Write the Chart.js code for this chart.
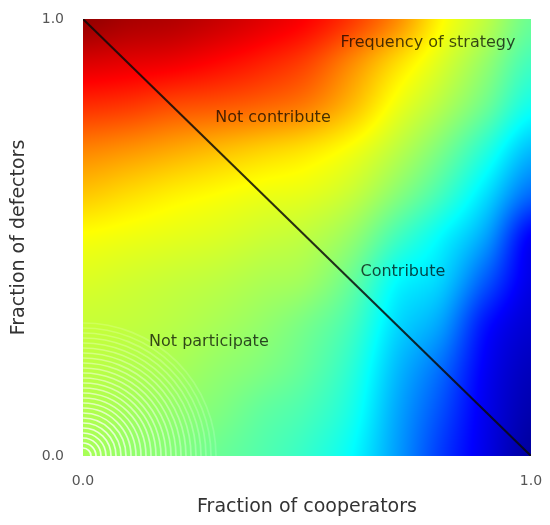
<!DOCTYPE html>
<html>
<head>
<meta charset="utf-8">
<script src="https://cdn.jsdelivr.net/npm/chart.js@4/dist/chart.umd.min.js"></script>
<style>
  html, body { margin: 0; padding: 0; background: #fff; }
  #wrap { width: 550px; height: 525px; }
</style>
</head>
<body>
<div id="wrap"><canvas id="freqChart" width="550" height="525"></canvas></div>
<script>
// grid of the strategy frequency map (jet index 0..1)
const xGrid = [0, 0.1, 0.2, 0.3, 0.4, 0.5, 0.6, 0.7, 0.8, 0.9, 1.0];
const yGrid = [1.0, 0.9, 0.8, 0.7, 0.6, 0.5, 0.4, 0.3, 0.2, 0.1, 0.0];
const frequency = [
    [0.98, 0.96, 0.95, 0.93, 0.905, 0.875, 0.82, 0.74, 0.63, 0.56, 0.48],
    [0.91, 0.90, 0.89, 0.87, 0.845, 0.81, 0.74, 0.66, 0.59, 0.52, 0.44],
    [0.83, 0.82, 0.80, 0.79, 0.775, 0.75, 0.69, 0.61, 0.55, 0.48, 0.39],
    [0.745, 0.73, 0.71, 0.69, 0.67, 0.65, 0.615, 0.56, 0.495, 0.41, 0.31],
    [0.68, 0.66, 0.64, 0.625, 0.61, 0.60, 0.57, 0.51, 0.44, 0.345, 0.23],
    [0.62, 0.61, 0.60, 0.59, 0.575, 0.56, 0.52, 0.44, 0.37, 0.28, 0.12],
    [0.59, 0.58, 0.57, 0.56, 0.545, 0.53, 0.475, 0.375, 0.33, 0.21, 0.10],
    [0.57, 0.565, 0.555, 0.54, 0.52, 0.49, 0.44, 0.34, 0.28, 0.14, 0.08],
    [0.56, 0.55, 0.54, 0.52, 0.50, 0.47, 0.415, 0.31, 0.23, 0.115, 0.06],
    [0.55, 0.535, 0.52, 0.50, 0.47, 0.445, 0.395, 0.29, 0.20, 0.105, 0.045],
    [0.54, 0.52, 0.505, 0.48, 0.455, 0.425, 0.375, 0.28, 0.18, 0.10, 0.03]
];

// boundary line between contribute / not contribute
const boundaryX = [0, 1];
const boundaryY = [1, 0];

// region labels
const labelTexts = ['Frequency of strategy', 'Not contribute', 'Contribute', 'Not participate'];
const labelX = [0.77, 0.424, 0.714, 0.281];
const labelY = [0.945, 0.773, 0.421, 0.261];

const tickValues = [0, 1];

function jet(v) {
    const r = Math.min(Math.max(Math.min(4 * v - 1.5, -4 * v + 4.5), 0), 1);
    const g = Math.min(Math.max(Math.min(4 * v - 0.5, -4 * v + 3.5), 0), 1);
    const b = Math.min(Math.max(Math.min(4 * v + 0.5, -4 * v + 2.5), 0), 1);
    return [Math.round(r * 255), Math.round(g * 255), Math.round(b * 255)];
}

// smooth sampling of the grid for display (catmull-rom)
function cr(p0, p1, p2, p3, t) {
    return 0.5 * ((2 * p1) + (-p0 + p2) * t + (2 * p0 - 5 * p1 + 4 * p2 - p3) * t * t + (-p0 + 3 * p1 - 3 * p2 + p3) * t * t * t);
}
function sampleGrid(u, v) {
    const nx = xGrid.length, ny = yGrid.length;
    const i = Math.min(Math.max(Math.floor(u), 0), nx - 2);
    const j = Math.min(Math.max(Math.floor(v), 0), ny - 2);
    const tu = Math.min(Math.max(u - i, 0), 1);
    const tv = Math.min(Math.max(v - j, 0), 1);
    const cl = (a, n) => Math.min(Math.max(a, 0), n - 1);
    const rows = [];
    for (let m = -1; m <= 2; m++) {
        const row = frequency[cl(j + m, ny)];
        rows.push(cr(row[cl(i - 1, nx)], row[cl(i, nx)], row[cl(i + 1, nx)], row[cl(i + 2, nx)], tu));
    }
    return Math.min(Math.max(cr(rows[0], rows[1], rows[2], rows[3], tv), 0), 1);
}

const heatmapPlugin = {
    id: 'heatmap',
    beforeDatasetsDraw(chart) {
        const { ctx, chartArea, scales } = chart;
        const w = Math.round(chartArea.right - chartArea.left);
        const h = Math.round(chartArea.bottom - chartArea.top);
        const dx = xGrid[1] - xGrid[0];
        const dy = yGrid[0] - yGrid[1];
        const off = document.createElement('canvas');
        off.width = w;
        off.height = h;
        const octx = off.getContext('2d');
        const img = octx.createImageData(w, h);
        for (let py = 0; py < h; py++) {
            const yv = scales.y.getValueForPixel(chartArea.top + py + 0.5);
            const v = (yGrid[0] - yv) / dy;
            for (let px = 0; px < w; px++) {
                const xv = scales.x.getValueForPixel(chartArea.left + px + 0.5);
                const u = (xv - xGrid[0]) / dx;
                const c = jet(sampleGrid(u, v));
                const k = (py * w + px) * 4;
                img.data[k] = c[0];
                img.data[k + 1] = c[1];
                img.data[k + 2] = c[2];
                img.data[k + 3] = 255;
            }
        }
        octx.putImageData(img, 0, 0);
        ctx.save();
        ctx.drawImage(off, chartArea.left, chartArea.top);
        ctx.beginPath();
        ctx.rect(chartArea.left, chartArea.top, w, h);
        ctx.clip();

        // faint white arc pattern near the origin
        const cx = scales.x.getPixelForValue(0);
        const cy = scales.y.getPixelForValue(0);
        ctx.lineWidth = 1.7;
        for (let r = 8; r <= 135; r += 5) {
            ctx.strokeStyle = 'rgba(255,255,255,' + (0.9 * (1 - r / 165)).toFixed(2) + ')';
            ctx.beginPath();
            ctx.arc(cx, cy, r, -Math.PI / 2, 0);
            ctx.stroke();
        }
        ctx.restore();
    },
    afterDatasetsDraw(chart) {
        const { ctx, scales } = chart;
        ctx.save();
        ctx.font = '16px "DejaVu Sans", sans-serif';
        ctx.fillStyle = 'rgba(0,0,0,0.72)';
        ctx.textAlign = 'center';
        ctx.textBaseline = 'middle';
        labelTexts.forEach((t, i) => {
            ctx.fillText(t, scales.x.getPixelForValue(labelX[i]), scales.y.getPixelForValue(labelY[i]));
        });
        ctx.restore();
    }
};

function initChart() {
    const ctx = document.getElementById('freqChart');
    new Chart(ctx, {
        type: 'scatter',
        data: {
            datasets: [{
                label: 'Boundary',
                data: boundaryX.map((x, i) => ({ x: x, y: boundaryY[i] })),
                showLine: true,
                borderColor: 'rgba(10,10,10,0.85)',
                borderWidth: 2,
                pointRadius: 0,
                fill: false
            }]
        },
        options: {
            responsive: false,
            animation: false,
            layout: { padding: { left: 0, top: 19, right: 19, bottom: 0 } },
            plugins: {
                legend: { display: false },
                tooltip: { enabled: false }
            },
            scales: {
                x: {
                    type: 'linear',
                    min: 0,
                    max: 1,
                    afterBuildTicks: (scale) => { scale.ticks = tickValues.map(v => ({ value: v })); },
                    afterFit: (scale) => {
                        scale.height = 69;
                        scale.paddingLeft = 0;
                        scale.paddingRight = 0;
                    },
                    grid: { display: false, drawTicks: false },
                    border: { display: false },
                    ticks: {
                        autoSkip: false,
                        maxRotation: 0,
                        padding: 17,
                        color: '#555',
                        font: { family: 'DejaVu Sans', size: 14 },
                        callback: (v) => Number(v).toFixed(1)
                    },
                    title: {
                        display: true,
                        text: 'Fraction of cooperators',
                        color: '#333',
                        font: { family: 'DejaVu Sans', size: 19 },
                        padding: { top: 0, bottom: 7 }
                    }
                },
                y: {
                    type: 'linear',
                    min: 0,
                    max: 1,
                    afterBuildTicks: (scale) => { scale.ticks = tickValues.map(v => ({ value: v })); },
                    afterFit: (scale) => {
                        scale.width = 83;
                        scale.paddingTop = 0;
                        scale.paddingBottom = 0;
                    },
                    grid: { display: false, drawTicks: false },
                    border: { display: false },
                    ticks: {
                        autoSkip: false,
                        padding: 19,
                        color: '#555',
                        font: { family: 'DejaVu Sans', size: 14 },
                        callback: (v) => Number(v).toFixed(1)
                    },
                    title: {
                        display: true,
                        text: 'Fraction of defectors',
                        color: '#333',
                        font: { family: 'DejaVu Sans', size: 19 },
                        padding: { top: 8, bottom: 0 }
                    }
                }
            }
        },
        plugins: [heatmapPlugin]
    });
}

window.addEventListener('DOMContentLoaded', initChart);
</script>
</body>
</html>
